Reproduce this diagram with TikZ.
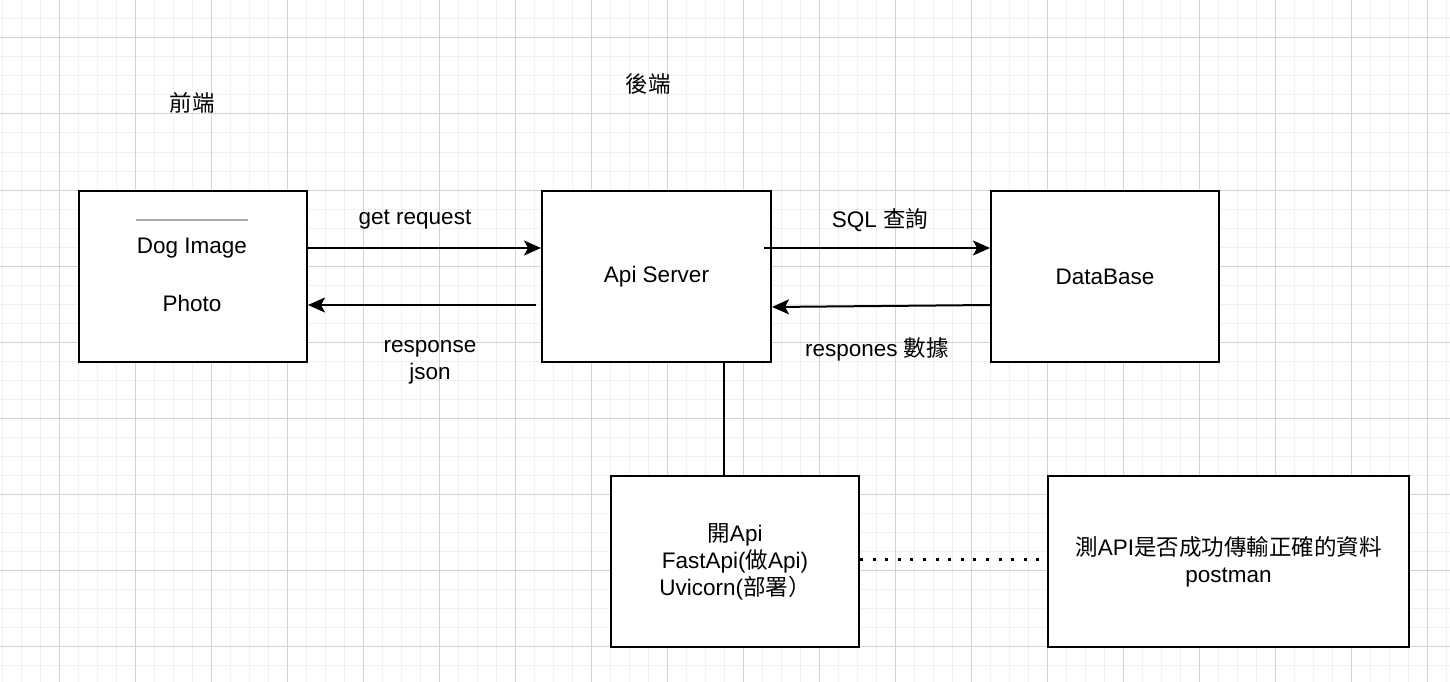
\documentclass[tikz,border=0pt]{standalone}
\usepackage{fontspec}
\setmainfont{Liberation Sans}
\newfontfamily\cjk{Noto Sans CJK TC}
\usetikzlibrary{arrows.meta}
\definecolor{minorgrid}{HTML}{F0F0F0}
\definecolor{majorgrid}{HTML}{D3D3D3}
\definecolor{hrgrey}{HTML}{A8A8A8}
\tikzset{
  box/.style={draw=black, line width=2pt, fill=white, inner sep=0pt, align=center,
    font=\fontsize{22.5}{27}\selectfont},
  lbl/.style={inner sep=0pt, align=center, font=\fontsize{22.5}{27}\selectfont},
  arr/.style={draw=black, line width=2pt, -{Stealth[length=17pt,width=15pt,inset=4pt]}},
  plain/.style={draw=black, line width=2pt},
  dotline/.style={draw=black, line width=3pt, dash pattern=on 3pt off 9.6pt},
}
\begin{document}
\begin{tikzpicture}[x=1pt,y=-1pt]
\useasboundingbox (0,0) rectangle (1450,682);
\fill[white] (0,0) rectangle (1450,682);
% grid
\foreach \i in {0,...,76} {\draw[minorgrid, line width=1pt] ({2+19*\i},0) -- ({2+19*\i},682);}
\foreach \j in {0,...,36} {\draw[minorgrid, line width=1pt] (0,{19*\j}) -- (1450,{19*\j});}
\foreach \i in {0,...,18} {\draw[majorgrid, line width=1pt] ({59+76*\i},0) -- ({59+76*\i},682);}
\foreach \j in {0,...,8} {\draw[majorgrid, line width=1pt] (0,{38+76*\j}) -- (1450,{38+76*\j});}

% headings
\node[lbl] (front) at (192,103) {\cjk 前端};
\node[lbl] (back) at (648,84) {\cjk 後端};

% boxes
\node[box, minimum width=228pt, minimum height=171pt] (dog) at (193,276.5) {};
\draw[hrgrey, line width=1.5pt] (136,220) -- (248,220);
\node[lbl] (dogtxt) at (192,248) {Dog Image};
\node[lbl] (phototxt) at (192,303) {Photo};

\node[box, minimum width=229pt, minimum height=171pt] (api) at (656.5,276.5) {Api Server};
\node[box, minimum width=228pt, minimum height=171pt] (db) at (1105,276.5) {DataBase};
\node[box, minimum width=248pt, minimum height=171pt] (uv) at (735,561.5)
  {{\cjk 開}Api\\FastApi({\cjk 做}Api)\\Uvicorn({\cjk 部署）}};
\node[box, minimum width=361pt, minimum height=171pt] (pm) at (1228.5,561.5)
  {{\cjk 測}API{\cjk 是否成功傳輸正確的資料}\\postman};

% connectors
\draw[arr] (dog.east |- 0,248) -- (api.west |- 0,248);
\coordinate (respStart) at (536,305);
\draw[arr] (respStart) -- (dog.east |- respStart);
\coordinate (sqlStart) at (764,248);
\draw[arr] (sqlStart) -- (db.west |- sqlStart);
\draw[arr] (db.west |- 0,305) -- (api.east |- 0,307);
\draw[plain] (api.south -| 724,0) -- (uv.north -| 724,0);
\draw[dotline] (uv.east |- 0,559) -- (pm.west |- 0,559);

% connector labels
\node[lbl] (getlbl) at (415,220) {get request};
\node[lbl] (resplbl) at (430,362) {response\\json};
\node[lbl] (sqllbl) at (880,220) {SQL {\cjk 查詢}};
\node[lbl] (dblbl) at (877,349) {respones {\cjk 數據}};
\end{tikzpicture}
\end{document}
